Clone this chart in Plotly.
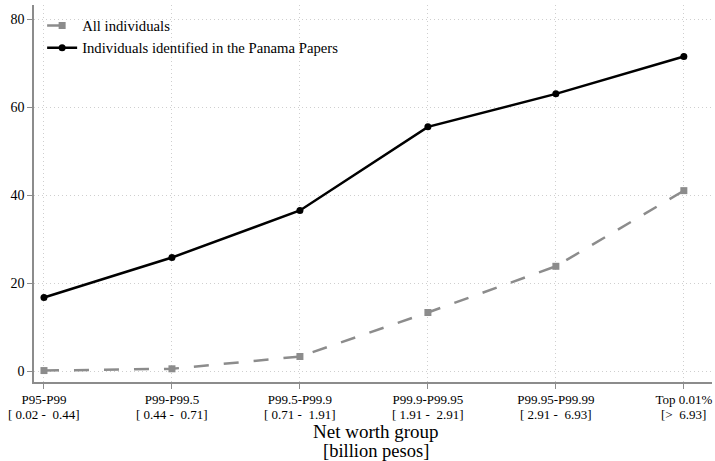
import plotly.graph_objects as go

groups = ["P95-P99", "P99-P99.5", "P99.5-P99.9", "P99.9-P99.95", "P99.95-P99.99", "Top 0.01%"]
ranges = ["[ 0.02 -\u00a0 0.44]", "[ 0.44 -\u00a0 0.71]", "[ 0.71 -\u00a0 1.91]",
          "[ 1.91 -\u00a0 2.91]", "[ 2.91 -\u00a0 6.93]", "[>\u00a0 6.93]"]
all_individuals = [0.1, 0.5, 3.3, 13.3, 23.8, 41.0]
panama = [16.7, 25.8, 36.5, 55.5, 63.0, 71.5]
y_ticks = [0, 20, 40, 60, 80]

xpos = list(range(len(groups)))
font_family = "Liberation Serif, DejaVu Serif, serif"

fig = go.Figure()
fig.add_trace(go.Scatter(x=xpos, y=all_individuals, mode='lines+markers', name='All individuals',
                         line=dict(width=2.5, color='#8c8c8c', dash='longdash'),
                         marker=dict(symbol='square', size=7, color='#8c8c8c')))
fig.add_trace(go.Scatter(x=xpos, y=panama, mode='lines+markers', name='Individuals identified in the Panama Papers',
                         line=dict(width=2.5, color='black'),
                         marker=dict(symbol='circle', size=7, color='black')))

fig.update_xaxes(range=[-0.078, 5.22], tickvals=xpos, ticktext=groups, automargin=False,
                 showgrid=True, gridcolor='#cfcfcf', griddash='1px,3px', gridwidth=1,
                 showline=True, linecolor='#8c8c8c', linewidth=1.5,
                 ticks='outside', ticklen=5, tickcolor='#8c8c8c',
                 tickfont=dict(size=13, color='black'), zeroline=False)
fig.update_yaxes(range=[-2.5, 83.2], tickvals=y_ticks, automargin=False,
                 showgrid=True, gridcolor='#cfcfcf', griddash='1px,3px', gridwidth=1,
                 showline=True, linecolor='#8c8c8c', linewidth=1.5,
                 ticks='outside', ticklen=5, tickcolor='#8c8c8c',
                 tickfont=dict(size=14, color='black'), zeroline=False)

# second line of each tick label (value range), tighter than plotly's line height
for xp, r in zip(xpos, ranges):
    fig.add_annotation(text=r, x=xp, xref='x', y=-0.085, yref='paper', yanchor='middle',
                       showarrow=False, borderpad=0, font=dict(size=13, color='black'))

# x-axis title
fig.add_annotation(text="Net worth group", xref='paper', yref='paper',
                   x=0.505, y=-0.1326, xanchor='center', yanchor='middle', showarrow=False,
                   borderpad=0, font=dict(size=19, color='black'))
fig.add_annotation(text="[billion pesos]", xref='paper', yref='paper',
                   x=0.505, y=-0.182, xanchor='center', yanchor='middle', showarrow=False,
                   borderpad=0, font=dict(size=18.5, color='black'))

fig.update_layout(width=715, height=461, margin=dict(l=34, r=3, t=5, b=79),
                  plot_bgcolor='white', paper_bgcolor='white',
                  font=dict(family=font_family, color='black'),
                  legend=dict(x=0.012, y=0.988, xanchor='left', yanchor='top',
                              bgcolor='rgba(0,0,0,0)', font=dict(size=14.7),
                              itemwidth=30, tracegroupgap=2))

# drop the default page margin so the 715x461 figure fills the window
fig.write_html("out.html", config={'displayModeBar': False},
               post_script="document.body.style.margin='0';")
